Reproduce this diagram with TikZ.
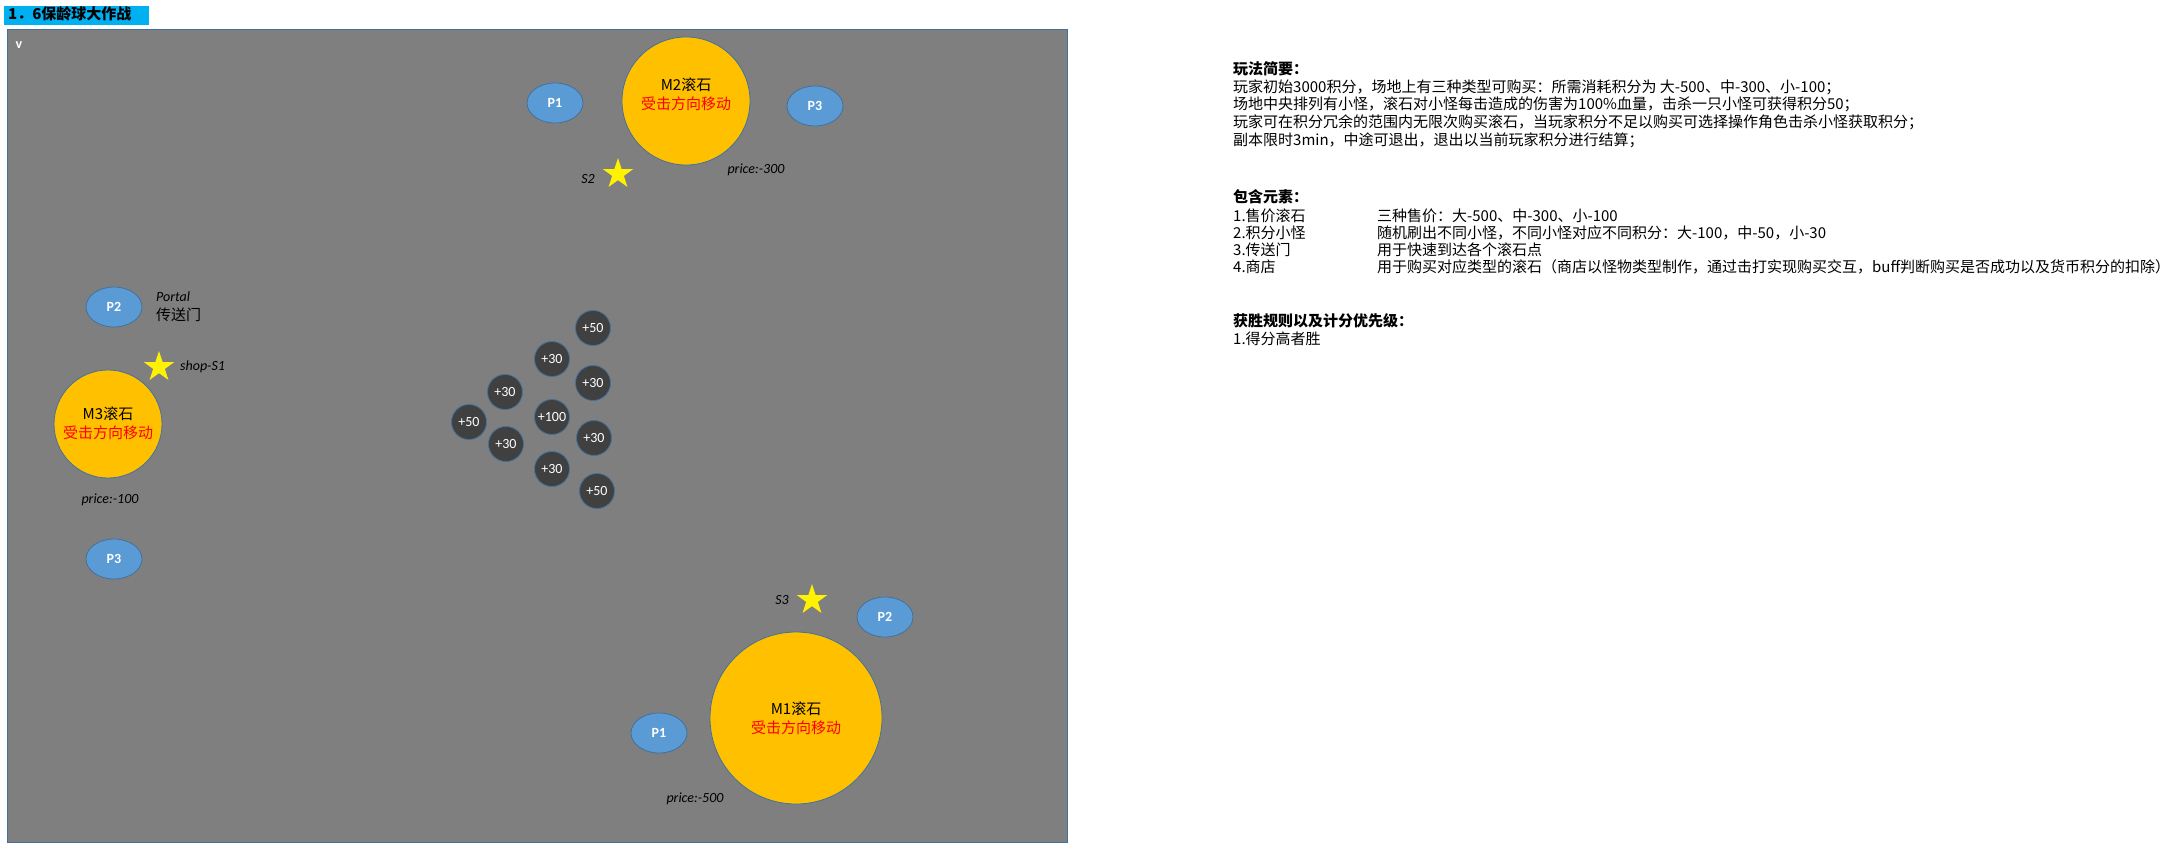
\documentclass[tikz,border=0pt]{standalone}
\usepackage{fontspec}
\setmainfont{Carlito}
\newfontfamily\cjk{Noto Sans CJK SC}
\usetikzlibrary{shapes.geometric}
\definecolor{boxgray}{HTML}{7F7F7F}
\definecolor{edgeblue}{HTML}{41719C}
\definecolor{pblue}{HTML}{5B9BD5}
\definecolor{gold}{HTML}{FFC000}
\definecolor{darkball}{HTML}{404040}
\definecolor{titlecyan}{HTML}{00B0F0}
\tikzset{
  pnode/.style={ellipse, draw=edgeblue, fill=pblue, line width=0.8pt, minimum width=56, minimum height=40, inner sep=0, text=white, font=\fontsize{14}{16}\selectfont\bfseries},
  rock/.style={circle, draw=edgeblue, fill=gold, line width=0.8pt, inner sep=0},
  rocktext/.style={align=center, inner sep=0, font=\cjk\fontsize{15}{19}\selectfont},
  score/.style={circle, draw=edgeblue, fill=darkball, line width=0.8pt, minimum size=35, inner sep=0, text=white, font=\fontsize{14}{16}\selectfont},
  starshape/.style={star, star points=5, star point ratio=2.6, fill=yellow, draw=none, minimum size=32, inner sep=0},
  lbl/.style={inner sep=0, font=\fontsize{14}{16}\selectfont\itshape},
  txt/.style={anchor=west, inner sep=0, text height=12pt, text depth=3pt, font=\cjk\fontsize{15}{18}\selectfont},
  hd/.style={txt, font=\cjk\bfseries\fontsize{15}{18}\selectfont}
}
\begin{document}
\begin{tikzpicture}[x=1pt,y=-1pt]
\path[use as bounding box] (0,0) rectangle (2173,861);
% title
\fill[titlecyan] (4,6) rectangle (149,25);
\node[hd] (title) at (8,15.5) {1．6保龄球大作战};
% map box
\draw[fill=boxgray, draw=edgeblue, line width=1pt] (7,30) rectangle (1067,842);
\node[inner sep=0, text=white, font=\fontsize{14}{14}\selectfont\bfseries] (v) at (19,45) {v};
% M2 group
\node[rock, minimum size=128] (m2) at (686,101) {};
\node[rocktext] (m2t) at (686,94) {M2滚石\\\textcolor{red}{受击方向移动}};
\node[pnode] (p1a) at (555,103) {P1};
\node[pnode] (p3a) at (815,106) {P3};
\node[starshape] (s2) at (618,174) {};
\node[lbl] (s2l) at (588,179) {S2};
\node[lbl] (pr300) at (756,170) {price:-300};
% M3 group
\node[pnode] (p2a) at (114,307) {P2};
\node[lbl, anchor=west] (portal) at (156,297) {Portal};
\node[anchor=west, inner sep=0, font=\cjk\fontsize{15}{18}\selectfont] (portalcn) at (156,315) {传送门};
\node[starshape] (s1) at (159,367) {};
\node[lbl, anchor=west] (s1l) at (180,367) {shop-S1};
\node[rock, minimum size=108] (m3) at (108,424) {};
\node[rocktext] (m3t) at (108,423.5) {M3滚石\\\textcolor{red}{受击方向移动}};
\node[lbl] (pr100) at (110,500) {price:-100};
\node[pnode] (p3b) at (114,559) {P3};
% scores
\node[score] (c1) at (593,328) {+50};
\node[score] (c2) at (552,359) {+30};
\node[score] (c3) at (593,383) {+30};
\node[score] (c4) at (505,392) {+30};
\node[score] (c5) at (469,422) {+50};
\node[score] (c6) at (552,417) {+100};
\node[score] (c7) at (506,444) {+30};
\node[score] (c8) at (594,438) {+30};
\node[score] (c9) at (552,469) {+30};
\node[score] (c10) at (597,491) {+50};
% M1 group
\node[starshape] (s3) at (812,600) {};
\node[lbl] (s3l) at (782,600) {S3};
\node[pnode] (p2b) at (885,617) {P2};
\node[rock, minimum size=172] (m1) at (796,718) {};
\node[rocktext] (m1t) at (796,718) {M1滚石\\\textcolor{red}{受击方向移动}};
\node[pnode] (p1b) at (659,733) {P1};
\node[lbl] (pr500) at (695,799) {price:-500};
% right text
\node[hd] (h1) at (1233,70) {玩法简要：};
\node[txt] (l1) at (1233,88) {玩家初始3000积分，场地上有三种类型可购买：所需消耗积分为 大-500、中-300、小-100；};
\node[txt] (l2) at (1233,105) {场地中央排列有小怪，滚石对小怪每击造成的伤害为100\%血量，击杀一只小怪可获得积分50；};
\node[txt] (l3) at (1233,123) {玩家可在积分冗余的范围内无限次购买滚石，当玩家积分不足以购买可选择操作角色击杀小怪获取积分；};
\node[txt] (l4) at (1233,141) {副本限时3min，中途可退出，退出以当前玩家积分进行结算；};
\node[hd] (h2) at (1233,198) {包含元素：};
\node[txt] (e1) at (1233,217) {1.售价滚石};
\node[txt] (e1d) at (1377,217) {三种售价：大-500、中-300、小-100};
\node[txt] (e2) at (1233,234) {2.积分小怪};
\node[txt] (e2d) at (1377,234) {随机刷出不同小怪，不同小怪对应不同积分：大-100，中-50，小-30};
\node[txt] (e3) at (1233,251) {3.传送门};
\node[txt] (e3d) at (1377,251) {用于快速到达各个滚石点};
\node[txt] (e4) at (1233,268) {4.商店};
\node[txt] (e4d) at (1377,268) {用于购买对应类型的滚石（商店以怪物类型制作，通过击打实现购买交互，buff判断购买是否成功以及货币积分的扣除）};
\node[hd] (h3) at (1233,322) {获胜规则以及计分优先级：};
\node[txt] (w1) at (1233,340) {1.得分高者胜};
\end{tikzpicture}
\end{document}
